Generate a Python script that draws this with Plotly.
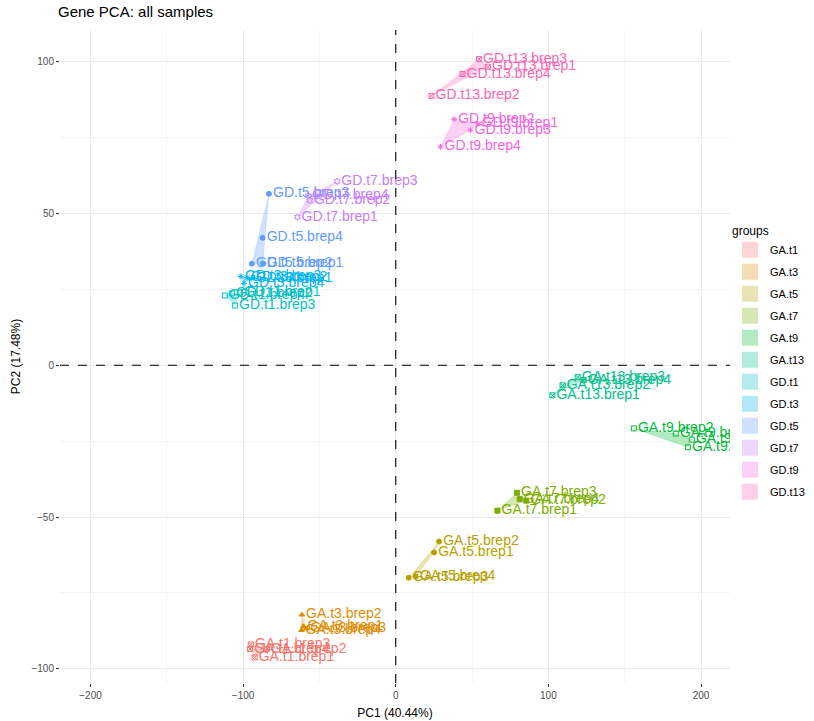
import plotly.graph_objects as go

# ---------------- data ----------------
group_names = ["GA.t1", "GA.t3", "GA.t5", "GA.t7", "GA.t9", "GA.t13",
               "GD.t1", "GD.t3", "GD.t5", "GD.t7", "GD.t9", "GD.t13"]
group_colors = ["#F8766D", "#DE8C00", "#B79F00", "#7CAE00", "#00BA38", "#00C08B",
                "#00BFC4", "#00B4F0", "#619CFF", "#C77CFF", "#F564E3", "#FF64B0"]
group_symbols = ["square-x-open", "triangle-up", "circle", "square", "square-open", "square-x-open",
                 "square-open", "asterisk-open", "circle", "hexagram-open", "asterisk-open", "square-x-open"]

reps = ["brep1", "brep2", "brep3", "brep4"]

pc1_by_group = {
    "GA.t1":  [-92.5, -84.5, -95.0, -95.5],
    "GA.t3":  [-60.5, -61.5, -58.5, -61.8],
    "GA.t5":  [25.1, 28.4, 8.5, 13.1],
    "GA.t7":  [66.6, 85.5, 79.4, 81.2],
    "GA.t9":  [183.5, 156.0, 194.0, 191.4],
    "GA.t13": [102.6, 109.3, 119.2, 123.1],
    "GD.t1":  [-102.0, -107.4, -105.4, -112.0],
    "GD.t3":  [-94.3, -97.5, -101.5, -99.5],
    "GD.t5":  [-87.1, -94.3, -83.1, -87.3],
    "GD.t7":  [-64.4, -56.3, -38.4, -57.4],
    "GD.t9":  [53.7, 38.2, 48.9, 29.3],
    "GD.t13": [60.4, 23.4, 54.5, 43.7],
}
pc2_by_group = {
    "GA.t1":  [-96.3, -93.5, -92.0, -93.5],
    "GA.t3":  [-86.0, -82.2, -86.8, -87.3],
    "GA.t5":  [-61.7, -58.1, -70.0, -69.6],
    "GA.t7":  [-47.9, -44.6, -42.0, -44.1],
    "GA.t9":  [-22.5, -20.8, -24.5, -27.0],
    "GA.t13": [-9.9, -6.6, -3.9, -4.9],
    "GD.t1":  [24.0, 23.7, 19.7, 23.0],
    "GD.t3":  [28.6, 28.9, 29.3, 27.0],
    "GD.t5":  [33.6, 33.5, 56.5, 42.0],
    "GD.t7":  [48.8, 54.3, 60.6, 55.9],
    "GD.t9":  [79.6, 81.1, 77.5, 72.0],
    "GD.t13": [98.4, 88.8, 100.9, 96.0],
}

x_ticks = [-200, -100, 0, 100, 200]
y_ticks = [-100, -50, 0, 50, 100]
title_text = "Gene PCA: all samples"
x_title = "PC1 (40.44%)"
y_title = "PC2 (17.48%)"

FONT = "Liberation Sans, Arial, sans-serif"


def hex_rgba(h, a):
    h = h.lstrip("#")
    return "rgba(%d,%d,%d,%.2f)" % (int(h[0:2], 16), int(h[2:4], 16), int(h[4:6], 16), a)


def convex_hull(pts):
    pts = sorted(set(pts))
    if len(pts) <= 2:
        return pts

    def cross(o, a, b):
        return (a[0] - o[0]) * (b[1] - o[1]) - (a[1] - o[1]) * (b[0] - o[0])

    lower, upper = [], []
    for p in pts:
        while len(lower) >= 2 and cross(lower[-2], lower[-1], p) <= 0:
            lower.pop()
        lower.append(p)
    for p in reversed(pts):
        while len(upper) >= 2 and cross(upper[-2], upper[-1], p) <= 0:
            upper.pop()
        upper.append(p)
    return lower[:-1] + upper[:-1]


fig = go.Figure()

# hulls
for g, col in zip(group_names, group_colors):
    hull = convex_hull(list(zip(pc1_by_group[g], pc2_by_group[g])))
    hx = [p[0] for p in hull] + [hull[0][0]]
    hy = [p[1] for p in hull] + [hull[0][1]]
    fig.add_trace(go.Scatter(
        x=hx, y=hy, mode="lines", fill="toself",
        fillcolor=hex_rgba(col, 0.3), line=dict(color=hex_rgba(col, 0.3), width=0.5),
        name=g, legendgroup=g, showlegend=False, hoverinfo="skip"))

# points + labels
for g, col, sym in zip(group_names, group_colors, group_symbols):
    labels = [g + "." + r for r in reps]
    fig.add_trace(go.Scatter(
        x=pc1_by_group[g], y=pc2_by_group[g], mode="markers+text",
        text=labels, textposition="middle right",
        textfont=dict(family=FONT, size=14, color=col),
        marker=dict(symbol=sym, size=5, color=col, line=dict(color=col, width=1)),
        name=g, legendgroup=g, showlegend=False, cliponaxis=True))

# legend keys (ggplot-like filled squares)
for g, col in zip(group_names, group_colors):
    fig.add_trace(go.Scatter(
        x=[None], y=[None], mode="markers",
        marker=dict(symbol="square", size=18, color=hex_rgba(col, 0.3), line=dict(width=0)),
        name=g, legendgroup=g, showlegend=True))

fig.add_vline(x=0, line=dict(color="black", width=1.1, dash="dash"))
fig.add_hline(y=0, line=dict(color="black", width=1.1, dash="dash"))

axis_common = dict(
    showgrid=True, gridcolor="#EBEBEB", gridwidth=1,
    zeroline=False, showline=False,
    ticks="outside", ticklen=3, tickcolor="#333333", tickwidth=1,
    tickfont=dict(family=FONT, size=10, color="#4D4D4D"),
)

fig.update_layout(
    width=814, height=721,
    margin=dict(l=60, r=84, t=30, b=38, autoexpand=False),
    paper_bgcolor="white", plot_bgcolor="white",
    title=dict(text=title_text, x=58 / 814, xref="container", xanchor="left",
               y=1 - 6 / 721, yanchor="top",
               font=dict(family=FONT, size=15, color="black")),
    xaxis=dict(range=[-220, 219], tickvals=x_ticks,
               minor=dict(dtick=50, tick0=0, showgrid=True, gridcolor="#F5F5F5", ticks=""),
               title=dict(text=x_title, standoff=8,
                          font=dict(family=FONT, size=12, color="black")),
               **axis_common),
    yaxis=dict(range=[-104.7, 110.5], tickvals=y_ticks,
               minor=dict(dtick=25, tick0=0, showgrid=True, gridcolor="#F5F5F5", ticks=""),
               title=dict(text=y_title, standoff=8,
                          font=dict(family=FONT, size=12, color="black")),
               **axis_common),
    legend=dict(x=1.0, xanchor="left", y=0.49, yanchor="middle",
                title=dict(text="groups", font=dict(family=FONT, size=12, color="black")),
                font=dict(family=FONT, size=11, color="black"),
                itemwidth=30, tracegroupgap=3),
    showlegend=True,
)

fig.write_html("out.html",
               config={"displayModeBar": False},
               post_script="document.body.style.margin='0';document.body.style.overflow='hidden';")
